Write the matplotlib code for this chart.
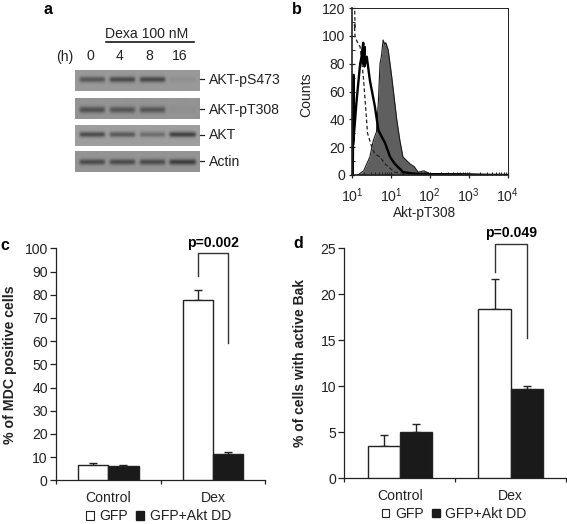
import numpy as np
import matplotlib
matplotlib.use("Agg")
import matplotlib.pyplot as plt
from matplotlib.patches import Patch

plt.rcParams['font.family'] = ['Liberation Sans', 'DejaVu Sans']
plt.rcParams['font.size'] = 10
plt.rcParams['mathtext.fontset'] = 'custom'
plt.rcParams['mathtext.rm'] = 'Liberation Sans'
plt.rcParams['mathtext.default'] = 'regular'

W, H = 567, 524
INK = '#222222'
FS = 10.1

# Panel a: blot band strengths per lane
hours = ['0', '4', '8', '16']
blot_names = ['AKT-pS473', 'AKT-pT308', 'AKT', 'Actin']
band_pS473 = [0.72, 0.85, 0.88, 0.10]
band_pT308 = [0.78, 0.72, 0.72, 0.06]
band_akt = [0.85, 0.72, 0.50, 0.95]
band_actin = [0.85, 0.85, 0.85, 1.0]

# Panel b: histogram outlines (decades above the axis start, counts)
filled_x = [0.15, 0.30, 0.46, 0.55, 0.63, 0.68, 0.72, 0.76, 0.80, 0.84, 0.87, 0.93, 1.02, 1.15, 1.23, 1.31, 1.49, 1.60, 1.70, 1.85, 2.0, 2.3, 2.75, 3.2, 4.0]
filled_y = [0, 3, 13, 25, 31, 54, 80, 86, 97, 94, 95, 90, 71, 40, 25, 13, 8, 6, 2, 3, 1, 1, 1, 0.5, 0]
solid_x = [0.02, 0.04, 0.03, 0.12, 0.21, 0.24, 0.29, 0.28, 0.33, 0.32, 0.38, 0.46, 0.59, 0.68, 0.85, 0.98, 1.1, 1.32, 1.6, 2.0, 4.0]
solid_y = [0, 72, 22, 54, 80, 84, 95, 80, 92, 78, 85, 68, 49, 32, 23, 13, 8, 2, 1, 0.5, 0]
dashed_x = [0.07, 0.08, 0.06, 0.08, 0.13, 0.21, 0.29, 0.35, 0.40, 0.51, 0.59, 0.72, 0.85, 1.1, 1.4, 2.0]
dashed_y = [118, 105, 108, 99, 96, 92, 71, 49, 30, 20, 15, 13, 8, 2, 1, 0]
flow_ticks = [r'$10^{1}$', r'$10^{1}$', r'$10^{2}$', r'$10^{3}$', r'$10^{4}$']

# Panels c, d: bars
groups = ['Control', 'Dex']
mdc_gfp = [6.8, 77.7]
mdc_gfp_err = [0.5, 4.3]
mdc_dd = [6.1, 11.3]
mdc_dd_err = [0.4, 1.1]
bak_gfp = [3.5, 18.4]
bak_gfp_err = [1.25, 3.3]
bak_dd = [5.0, 9.75]
bak_dd_err = [0.85, 0.25]
series_names = ['GFP', 'GFP+Akt DD']


def axes_px(l, t, r, b, **kw):
    return fig.add_axes([l / W, 1 - b / H, (r - l) / W, (b - t) / H], **kw)


fig = plt.figure(figsize=(W / 100, H / 100), dpi=100)
page = axes_px(0, 0, W, H)
page.set_axis_off()

# Panel a
rows = [(70.5, 91, band_pS473, 79.5, 0.60, 2.8), (98, 119, band_pT308, 109.5, 0.58, 3.2),
        (126, 146.5, band_akt, 135, 0.62, 2.6), (151, 172, band_actin, 161.7, 0.58, 2.8)]
lane_c = [92, 122, 152, 182]
lane_hw = [12.5, 12.5, 12.5, 13]
for (top, bot, bands, yc, bg, sig), name in zip(rows, blot_names):
    xs = np.arange(75, 199.5, 0.5)
    ys = np.arange(top, bot, 0.5)
    img = np.full((len(ys), len(xs)), bg)
    for c, hw, s in zip(lane_c, lane_hw, bands):
        px = 0.5 * (np.tanh((xs - c + hw) / 1.5) - np.tanh((xs - c - hw) / 1.5))
        py = np.exp(-((ys - yc) / sig) ** 2)
        img -= (bg - 0.24) * s * np.outer(py, px)
    page.imshow(img, extent=(75, 199.5, bot, top), cmap='gray', vmin=0, vmax=1,
                aspect='auto', interpolation='bilinear')
    page.plot([200, 204], [yc - 0.5, yc - 0.5], color=INK, lw=0.9)
    page.text(208.5, yc + 0.3, name, ha='left', va='center', fontsize=FS, color=INK)
page.text(147, 33.5, 'Dexa 100 nM', ha='center', va='center', fontsize=FS, color=INK)
page.plot([106, 194], [42, 42], color='black', lw=1.1)
page.text(65, 56.5, '(h)', ha='center', va='center', fontsize=FS, color=INK)
hour_x = [90.7, 120, 149, 180]
for c, h in zip(hour_x, hours):
    page.text(c, 56.5, h, ha='center', va='center', fontsize=FS, color=INK)
page.set_xlim(0, W)
page.set_ylim(H, 0)

for s, x, y in [('a', 48, 10), ('b', 297, 9), ('c', 4.5, 245), ('d', 298, 244)]:
    page.text(x, y, s, ha='center', va='center', fontweight='bold', fontsize=11.5, color='black')

# Panel b
ax = axes_px(352, 8, 507.5, 175)
ax.fill_between(filled_x, filled_y, color='#5f5f5f', lw=0)
ax.plot(filled_x, filled_y, color='#1c1c1c', lw=0.8)
ax.plot(dashed_x, dashed_y, color='#222222', lw=0.9, ls=(0, (3, 2)))
ax.plot(solid_x, solid_y, color='black', lw=1.7)
ax.set_xlim(0, 4)
ax.set_ylim(0, 120)
ax.set_xticks(range(5), flow_ticks)
ax.set_xticks([d + np.log10(m) for d in range(4) for m in range(2, 10)], minor=True)
ax.set_yticks(range(0, 121, 20))
ax.set_yticks(range(10, 120, 20), minor=True)
ax.tick_params(axis='y', which='major', direction='inout', length=5, width=0.9, color=INK, labelcolor=INK, labelsize=FS, pad=2.5)
ax.tick_params(axis='y', which='minor', direction='in', length=2, width=0.7, color=INK)
ax.tick_params(axis='x', which='major', direction='inout', length=5, width=0.9, color=INK, labelcolor=INK, labelsize=FS, pad=6)
ax.tick_params(axis='x', which='minor', direction='in', length=2, width=0.7, color=INK)
for sp in ax.spines.values():
    sp.set_linewidth(0.7)
    sp.set_color(INK)
for side in ('left', 'bottom'):
    ax.spines[side].set_linewidth(1.2)
page.text(306, 95, 'Counts', rotation=90, ha='center', va='center', fontsize=FS, color=INK)
page.text(425, 213, 'Akt-pT308', ha='center', va='center', fontsize=FS - 0.3, color=INK)


def bars(ax, a, ae, b, be, ymax, ystep, ylabel, bracket, ptext, leg_x, leg_y, ylab_fs):
    bw = 0.29
    c = np.arange(len(groups)) + 0.5
    for vals, errs, x, col in ((a, ae, c - bw / 2, 'white'), (b, be, c + bw / 2, '#1a1a1a')):
        ax.bar(x, vals, bw, color=col, edgecolor=INK, lw=1.0, zorder=3)
        ax.errorbar(x, vals, yerr=[np.zeros(len(errs)), errs], fmt='none', ecolor=INK,
                    elinewidth=1.0, capsize=2.6, capthick=1.0, zorder=2)
    xl, xr = c[1] - bw / 2, c[1] + bw / 2
    y_l, y_t, y_r = bracket
    ax.plot([xl, xl, xr, xr], [y_l, y_t, y_t, y_r], color='#333333', lw=1.0, clip_on=False)
    ax.text(c[1], y_t + ymax * 0.015, ptext, ha='center', va='bottom', fontweight='bold',
            fontsize=FS, color='black', clip_on=False)
    ax.set_xlim(0, 2)
    ax.set_ylim(0, ymax)
    ax.set_yticks(np.arange(0, ymax + 1, ystep))
    ax.set_xticks([0, 1, 2], ['', '', ''])
    ax.set_xticks(c, groups, minor=True)
    ax.tick_params(axis='x', which='minor', length=0, pad=8, labelsize=FS, labelcolor=INK)
    ax.tick_params(axis='x', which='major', length=3, width=0.9, color=INK)
    ax.tick_params(axis='y', length=4, width=0.9, color=INK, labelsize=FS, labelcolor=INK, pad=2)
    for s in ('top', 'right'):
        ax.spines[s].set_visible(False)
    for s in ('left', 'bottom'):
        ax.spines[s].set_linewidth(0.9)
        ax.spines[s].set_color(INK)
    ax.set_ylabel(ylabel, fontweight='bold', fontsize=ylab_fs, color=INK)
    handles = [Patch(facecolor='white', edgecolor=INK, lw=0.8), Patch(facecolor='#1a1a1a', edgecolor='#1a1a1a')]
    ax.legend(handles, series_names, ncols=2, frameon=False, loc='center', bbox_to_anchor=(leg_x, leg_y),
              handlelength=0.55, handleheight=0.6, handletextpad=0.4, columnspacing=0.6,
              fontsize=FS, labelcolor=INK, borderpad=0, borderaxespad=0)


axc = axes_px(56, 248.3, 265.3, 480.3)
bars(axc, mdc_gfp, mdc_gfp_err, mdc_dd, mdc_dd_err, 100, 10, '% of MDC positive cells',
     (88.2, 97.8, 59), 'p=0.002', 0.49, -0.155, 10.2)
axc.yaxis.set_label_coords(-0.184, 0.5)

axd = axes_px(344.3, 248.3, 566, 478.3)
bars(axd, bak_gfp, bak_gfp_err, bak_dd, bak_dd_err, 25, 5, '% of cells with active Bak',
     (22.4, 25.5, 15.3), 'p=0.049', 0.495, -0.155, 10.0)
axd.yaxis.set_label_coords(-0.166, 0.5)

fig.savefig('out.png', dpi=100)
